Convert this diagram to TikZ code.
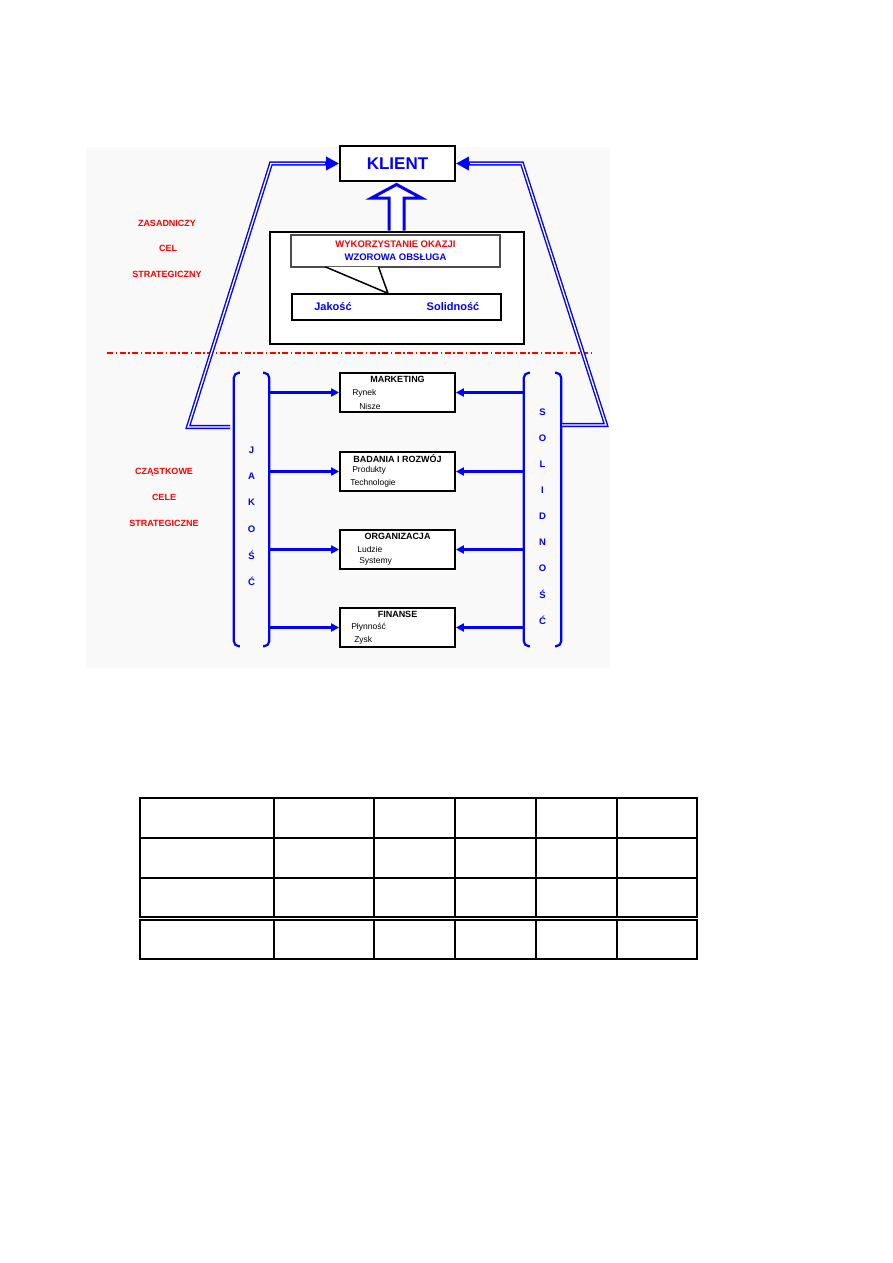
\documentclass[tikz,border=0pt]{standalone}
\usepackage{fontspec}
\setmainfont{Liberation Sans}
\usetikzlibrary{arrows.meta,positioning}

\definecolor{tlo}{gray}{0.975}

\tikzset{
  box/.style={draw=black, line width=1.8pt, fill=white, minimum width=115pt, minimum height=39pt, inner sep=0pt},
  title/.style={font=\bfseries\fontsize{9}{9}\selectfont, inner sep=0pt},
  item/.style={font=\fontsize{8.5}{9}\selectfont, anchor=west, inner sep=0pt},
  side/.style={text=red, font=\bfseries\fontsize{9}{9}\selectfont, inner sep=0pt},
  letter/.style={text=blue, font=\bfseries\fontsize{9.5}{9}\selectfont, inner sep=0pt},
  value/.style={text=blue, font=\bfseries\fontsize{11}{11}\selectfont, inner sep=0pt},
  link/.style={draw=blue, line width=2.2pt, -{Triangle[length=8pt,width=8pt]}},
  rail/.style={draw=blue, line width=1.4pt, double=white, double distance=1.3pt},
  bigtip/.style={draw=blue, line width=3.5pt, -{Triangle[length=13pt,width=13pt]}},
  bracket/.style={draw=blue, line width=2.2pt, rounded corners=5pt},
}

\begin{document}
\begin{tikzpicture}[x=1pt,y=-1pt]
   \useasboundingbox (0,0) rectangle (893,1263);
   \fill[tlo] (86,147) rectangle (610,668);

   %top part
   \node[box, minimum height=35pt, text=blue, font=\bfseries\fontsize{17}{17}\selectfont] (klient) at (397.5,163.5) {KLIENT};
   \node[draw, line width=1.8pt, fill=white, minimum width=254pt, minimum height=112pt] (cel) at (397,288) {};
   \node[draw=black!70, line width=1.8pt, fill=white, minimum width=209pt, minimum height=32pt, align=center, font=\bfseries\fontsize{9.5}{13}\selectfont] (okazja) at (395.5,251) {\textcolor{red}{WYKORZYSTANIE OKAZJI}\\\textcolor{blue}{WZOROWA OBSŁUGA}};
   \node[draw, line width=1.3pt, minimum width=209pt, minimum height=26pt] (wartosci) at (396.5,307) {};
   \node[value] (jakosc) at (333,307) {Jakość};
   \node[value] (solidnosc) at (453,307) {Solidność};
   \filldraw[draw=black, line width=1.5pt, fill=white] ([xshift=-70pt,yshift=1pt]okazja.south) -- ([xshift=-8.5pt]wartosci.north) -- ([xshift=-17pt,yshift=1pt]okazja.south);
   \draw[draw=blue, line width=3pt, fill=white, line join=miter] (389,230.5) -- (389,198) -- (371.5,198) -- (396.5,184.5) -- (421.5,198) -- (404,198) -- (404,230.5);

   %labels
   \node[side] (zasad) at (167,223) {ZASADNICZY};
   \node[side] (cel1) at (168,248) {CEL};
   \node[side] (strat1) at (167,274) {STRATEGICZNY};
   \node[side] (czast) at (164,472) {CZĄSTKOWE};
   \node[side] (cele) at (164,497) {CELE};
   \node[side] (strat2) at (164,523) {STRATEGICZNE};
   \draw[draw=red, line width=1.1pt, dash pattern=on 6pt off 2.5pt on 1.5pt off 2.5pt] (107,353) -- (594,353);

   %brackets
   \node[minimum width=35pt, minimum height=273pt, inner sep=0pt] (jak) at (251.5,509.5) {};
   \node[minimum width=37pt, minimum height=273pt, inner sep=0pt] (sol) at (542.5,509.5) {};
   \draw[bracket] ([xshift=6pt]jak.north west) -- (jak.north west) -- (jak.south west) -- ([xshift=6pt]jak.south west);
   \draw[bracket] ([xshift=-6pt]jak.north east) -- (jak.north east) -- (jak.south east) -- ([xshift=-6pt]jak.south east);
   \draw[bracket] ([xshift=6pt]sol.north west) -- (sol.north west) -- (sol.south west) -- ([xshift=6pt]sol.south west);
   \draw[bracket] ([xshift=-6pt]sol.north east) -- (sol.north east) -- (sol.south east) -- ([xshift=-6pt]sol.south east);
   \foreach \l [count=\i] in {J,A,K,O,Ś,Ć}
      \node[letter] at (251.5,{450+26.3*(\i-1)}) {\l};
   \foreach \l [count=\i] in {S,O,L,I,D,N,O,Ś,Ć}
      \node[letter] at (542.5,{412+26.1*(\i-1)}) {\l};

   %rails
   \coordinate (lstart) at (230,427);
   \coordinate (lfoot) at (188,427);
   \coordinate (ltop) at (271,163.5);
   \coordinate (rstart) at (562,425);
   \coordinate (rfoot) at (606,425);
   \coordinate (rtop) at (522,163.5);
   \draw[rail, shorten >=8pt] (lstart) -- (lfoot) -- (ltop) -- (klient.west);
   \draw[rail, shorten >=8pt] (rstart) -- (rfoot) -- (rtop) -- (klient.east);
   \draw[bigtip] ([xshift=-14pt]klient.west) -- (klient.west);
   \draw[bigtip] ([xshift=14pt]klient.east) -- (klient.east);

   %boxes
   \node[box] (mark) at (397.5,392.5) {};
   \node[box] (bad) at (397.5,471.5) {};
   \node[box] (org) at (397.5,549.5) {};
   \node[box] (fin) at (397.5,627.5) {};
   \node[title] (markt) at ([yshift=-7pt]mark.north) {MARKETING};
   \node[title] (badt) at ([yshift=-7pt]bad.north) {BADANIA I ROZWÓJ};
   \node[title] (orgt) at ([yshift=-7pt]org.north) {ORGANIZACJA};
   \node[title] (fint) at ([yshift=-7pt]fin.north) {FINANSE};
   \node[item] (rynek) at ([shift={(13pt,-21pt)}]mark.north west) {Rynek};
   \node[item] (nisze) at ([shift={(20pt,-34pt)}]mark.north west) {Nisze};
   \node[item] (prod) at ([shift={(13pt,-19pt)}]bad.north west) {Produkty};
   \node[item] (tech) at ([shift={(11pt,-32pt)}]bad.north west) {Technologie};
   \node[item] (ludzie) at ([shift={(18pt,-20pt)}]org.north west) {Ludzie};
   \node[item] (syst) at ([shift={(20pt,-32pt)}]org.north west) {Systemy};
   \node[item] (plyn) at ([shift={(12pt,-20pt)}]fin.north west) {Płynność};
   \node[item] (zysk) at ([shift={(15pt,-33pt)}]fin.north west) {Zysk};

   %arrows
   \foreach \b in {mark,bad,org,fin} {
      \draw[link] (jak.east |- \b.west) -- (\b.west);
      \draw[link] (sol.west |- \b.east) -- (\b.east);
   }

   %table
   \foreach \t/\d in {798/917, 920/959} {
      \draw[line width=2.5pt] (140,\t) rectangle (697,\d);
      \foreach \x in {274,374,455,536,617}
         \draw[line width=2.5pt] (\x,\t) -- (\x,\d);
   }
   \foreach \y in {838,878}
      \draw[line width=2.5pt] (140,\y) -- (697,\y);

\end{tikzpicture}
\end{document}
